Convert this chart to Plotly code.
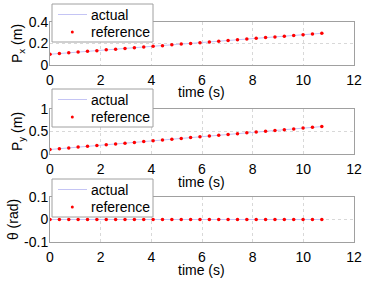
import plotly.graph_objects as go

time_s = [0.00, 0.37, 0.74, 1.11, 1.48, 1.85, 2.22, 2.59, 2.96, 3.33,
          3.70, 4.07, 4.44, 4.81, 5.18, 5.55, 5.92, 6.29, 6.66, 7.03,
          7.40, 7.77, 8.14, 8.51, 8.88, 9.25, 9.62, 9.99, 10.36, 10.73]
px_ref = [0.100, 0.106, 0.114, 0.121, 0.127, 0.133, 0.141, 0.147, 0.154, 0.161,
          0.168, 0.174, 0.180, 0.188, 0.195, 0.201, 0.207, 0.215, 0.221, 0.228,
          0.234, 0.241, 0.248, 0.255, 0.261, 0.268, 0.275, 0.281, 0.289, 0.295]
py_ref = [0.100, 0.117, 0.135, 0.153, 0.171, 0.188, 0.206, 0.223, 0.241, 0.258,
          0.276, 0.294, 0.311, 0.329, 0.346, 0.364, 0.382, 0.399, 0.417, 0.434,
          0.452, 0.470, 0.487, 0.505, 0.522, 0.540, 0.558, 0.575, 0.593, 0.610]
th_ref = [0.0] * 30
px_act = px_ref
py_act = py_ref
th_act = th_ref

legend_labels = ["actual", "reference"]
xlabel = "time (s)"
ylabels = ["P<sub>x</sub> (m)", "P<sub>y</sub> (m)", "θ (rad)"]
yranges = [[0, 0.4], [0, 1], [-0.1, 0.1]]
yticks = [[0, 0.2, 0.4], [0, 0.5, 1], [-0.1, 0, 0.1]]
yticktext = [["0", "0.2", "0.4"], ["0", "0.5", "1"], ["-0.1", "0", "0.1"]]
xticks = [0, 2, 4, 6, 8, 10, 12]

W, H = 392, 294
def fx(p):
    return p / W
def fy(p):
    return 1 - p / H

ACT_COLOR = "#c4c4f4"
REF_COLOR = "#ff0000"
FRAME = "#a0a0a0"
domains_y = [(22, 65), (109, 154), (197, 242)]
legend_top = [4, 89, 179]
xtitle_y = [92.5, 181.5, 269.5]

FONT = "Liberation Sans, Arial, sans-serif"
fig = go.Figure()
series = [(px_act, px_ref), (py_act, py_ref), (th_act, th_ref)]
shapes = []
annotations = []
for i, (act, ref) in enumerate(series):
    n = "" if i == 0 else str(i + 1)
    fig.add_trace(go.Scatter(x=time_s, y=act, mode="lines", name=legend_labels[0],
                             line=dict(color=ACT_COLOR, width=1),
                             xaxis="x" + n, yaxis="y" + n))
    fig.add_trace(go.Scatter(x=time_s, y=ref, mode="markers", name=legend_labels[1],
                             marker=dict(color=REF_COLOR, size=3.5),
                             xaxis="x" + n, yaxis="y" + n))
    top, bot = domains_y[i]
    xa = dict(domain=[fx(50), fx(354)], range=[0, 12], tickvals=xticks,
              showgrid=True, gridcolor="#d8d8d8", griddash="dot", gridwidth=1,
              showline=True, linecolor=FRAME, mirror=True, zeroline=False,
              ticks="", ticklabelstandoff=2,
              tickfont=dict(size=14, color="black", family=FONT),
              anchor="y" + n, fixedrange=True, automargin=False)
    ya = dict(domain=[fy(bot), fy(top)], range=yranges[i], tickvals=yticks[i],
              ticktext=yticktext[i],
              showgrid=True, gridcolor="#d8d8d8", griddash="dot", gridwidth=1,
              showline=True, linecolor=FRAME, mirror=True, zeroline=False,
              ticks="", ticklabelstandoff=-2,
              tickfont=dict(size=14, color="black", family=FONT),
              title=dict(text=ylabels[i], font=dict(size=14, color="black", family=FONT),
                         standoff=2),
              anchor="x" + n, fixedrange=True, automargin=False)
    fig.layout["xaxis" + n] = xa
    fig.layout["yaxis" + n] = ya

    annotations.append(dict(text=xlabel, xref="paper", yref="paper", x=fx(202),
                            y=fy(xtitle_y[i]), xanchor="center", yanchor="middle",
                            showarrow=False, borderpad=0,
                            font=dict(size=14, color="black", family=FONT)))

    # legend box
    T = legend_top[i]
    shapes.append(dict(type="rect", xref="paper", yref="paper",
                       x0=fx(52), x1=fx(153), y0=fy(T + 38), y1=fy(T),
                       fillcolor="white", line=dict(color=FRAME, width=1), layer="above"))
    shapes.append(dict(type="line", xref="paper", yref="paper",
                       x0=fx(58), x1=fx(87), y0=fy(T + 10.5), y1=fy(T + 10.5),
                       line=dict(color=ACT_COLOR, width=1), layer="above"))
    shapes.append(dict(type="circle", xref="paper", yref="paper",
                       x0=fx(70.8), x1=fx(73.8), y0=fy(T + 29.5), y1=fy(T + 26.5),
                       fillcolor=REF_COLOR, line=dict(color=REF_COLOR, width=0), layer="above"))
    for lab, dy in zip(legend_labels, [10.5, 28]):
        annotations.append(dict(text=lab, xref="paper", yref="paper", x=fx(90), y=fy(T + dy),
                                xanchor="left", yanchor="middle", showarrow=False,
                                borderpad=0,
                                font=dict(size=14, color="black", family=FONT)))

fig.update_layout(width=W, height=H, margin=dict(l=0, r=0, t=0, b=0),
                  paper_bgcolor="white", plot_bgcolor="white", showlegend=False,
                  font=dict(family=FONT, color="black"),
                  shapes=shapes, annotations=annotations)
fig.write_html("out.html", config={"displayModeBar": False},
               post_script="document.body.style.margin='0px';")
